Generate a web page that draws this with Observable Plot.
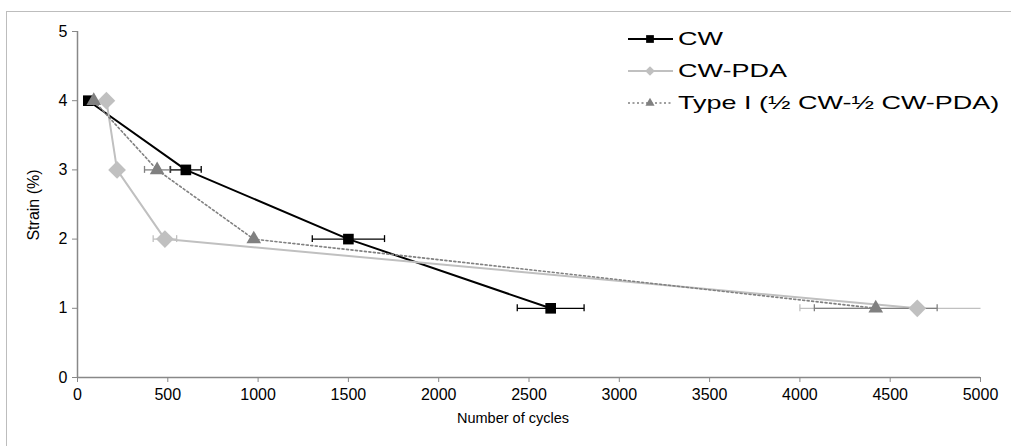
<!DOCTYPE html>
<html><head><meta charset="utf-8">
<script src="https://cdn.jsdelivr.net/npm/d3@7"></script>
<script src="https://cdn.jsdelivr.net/npm/@observablehq/plot@0.6"></script>
<style>
body{margin:0;background:#fff;font-family:"Liberation Sans",Arial,sans-serif;}
#wrap{position:relative;width:1011px;height:446px;overflow:hidden;}
#frame{position:absolute;left:6px;top:11px;width:1100px;height:500px;border-top:1.5px solid #bdbdbd;border-left:1.5px solid #bdbdbd;}
#chart{position:absolute;left:0;top:0;}
#legend{position:absolute;left:628px;top:23px;font-size:19px;color:#000;white-space:nowrap;}
.row{display:flex;align-items:center;height:32px;}
.row svg{margin-right:4px;flex:none;}
.row span{display:inline-block;transform:scaleX(1.42);transform-origin:left center;}
#chart svg g[aria-label$="tick label"] text{font-size:16px;}
</style></head>
<body><div id="wrap"><div id="frame"></div><div id="chart"></div><div id="legend"></div></div>
<script>
const strain = [4, 3, 2, 1];
const cwCycles = [60, 600, 1500, 2620];
const cwErr = [0, 85, 200, 185];
const pdaCycles = [160, 219, 484, 4650];
const pdaErr = [0, 0, 65, 650];
const typeCycles = [90, 441, 976, 4420];
const typeErr = [0, 70, 0, 340];
const xTicks = [0, 500, 1000, 1500, 2000, 2500, 3000, 3500, 4000, 4500, 5000];
const yTicks = [0, 1, 2, 3, 4, 5];
const seriesNames = ["CW", "CW-PDA", "Type I (\u00bd CW-\u00bd CW-PDA)"];

const series = [
  {name: seriesNames[0], cycles: cwCycles, err: cwErr, color: "#000000", width: 2, dash: null, symbol: "square", r: 6, errColor: "#000"},
  {name: seriesNames[1], cycles: pdaCycles, err: pdaErr, color: "#c0c0c0", width: 2, dash: null, symbol: "diamond2", r: 8, errColor: "#c0c0c0"},
  {name: seriesNames[2], cycles: typeCycles, err: typeErr, color: "#808080", width: 1.6, dash: "2,2.5", symbol: "triangle2", r: 7, errColor: "#808080"}
];
const rows = s => s.cycles.map((c, i) => ({x: c, y: strain[i], e: s.err[i], lo: Math.max(0, c - s.err[i]), hi: Math.min(5000, c + s.err[i]), hiRaw: c + s.err[i]}));

const marks = [];
marks.push(Plot.ruleY([0], {x1: 0, x2: 5000, stroke: "#888", strokeWidth: 1.5}));
marks.push(Plot.ruleX([0], {y1: 0, y2: 5, stroke: "#888", strokeWidth: 1.5}));
for (const s of series) {
  const d = rows(s);
  marks.push(Plot.line(d, {x: "x", y: "y", stroke: s.color, strokeWidth: s.width, strokeDasharray: s.dash}));
}
for (const s of series) {
  const d = rows(s).filter(r => r.e > 0);
  marks.push(Plot.link(d, {x1: "lo", x2: "hi", y1: "y", y2: "y", stroke: s.errColor, strokeWidth: 1.3}));
  marks.push(Plot.ruleX(d, {x: "lo", y1: r => r.y - 0.05, y2: r => r.y + 0.05, stroke: s.errColor, strokeWidth: 1.3}));
  marks.push(Plot.ruleX(d.filter(r => r.hiRaw <= 5000), {x: "hi", y1: r => r.y - 0.05, y2: r => r.y + 0.05, stroke: s.errColor, strokeWidth: 1.3}));
}
for (const s of series) {
  const d = rows(s);
  marks.push(Plot.dot(d, {x: "x", y: "y", symbol: () => s.symbol, r: s.r, fill: s.color, stroke: "none"}));
}
marks.push(Plot.axisX({ticks: xTicks, tickFormat: d3.format("d"), tickSize: 5, tickPadding: 6, stroke: "#888", label: null}));
marks.push(Plot.axisY({ticks: yTicks, tickFormat: d3.format("d"), tickSize: 5, tickPadding: 5, stroke: "#888", label: null}));

const chart = Plot.plot({
  width: 1011, height: 446,
  marginLeft: 77, marginRight: 31, marginTop: 31, marginBottom: 69,
  x: {domain: [0, 5000]},
  y: {domain: [0, 5]},
  style: {fontFamily: "Liberation Sans, Arial, sans-serif", fontSize: "16px", color: "#000", background: "transparent"},
  marks
});
document.getElementById("chart").appendChild(chart);

const svg = d3.select(chart);
svg.append("text").attr("x", 513).attr("y", 423).attr("text-anchor", "middle")
  .style("font-size", "14.5px").attr("fill", "#000").text("Number of cycles");
svg.append("text").attr("transform", "translate(39,205) rotate(-90)").attr("text-anchor", "middle")
  .style("font-size", "16px").attr("fill", "#000").text("Strain (%)");

const leg = d3.select("#legend");
series.forEach(s => {
  const row = leg.append("div").attr("class", "row");
  const g = row.append("svg").attr("width", 46).attr("height", 20);
  g.append("line").attr("x1", 0).attr("x2", 45).attr("y1", 10).attr("y2", 10)
    .attr("stroke", s.color).attr("stroke-width", s.width).attr("stroke-dasharray", s.dash);
  const sym = {square: d3.symbolSquare, diamond2: d3.symbolDiamond2, triangle2: d3.symbolTriangle2}[s.symbol];
  g.append("path").attr("transform", "translate(22,10)").attr("d", d3.symbol(sym, 60)).attr("fill", s.color);
  row.append("span").text(s.name);
});
</script></body></html>
